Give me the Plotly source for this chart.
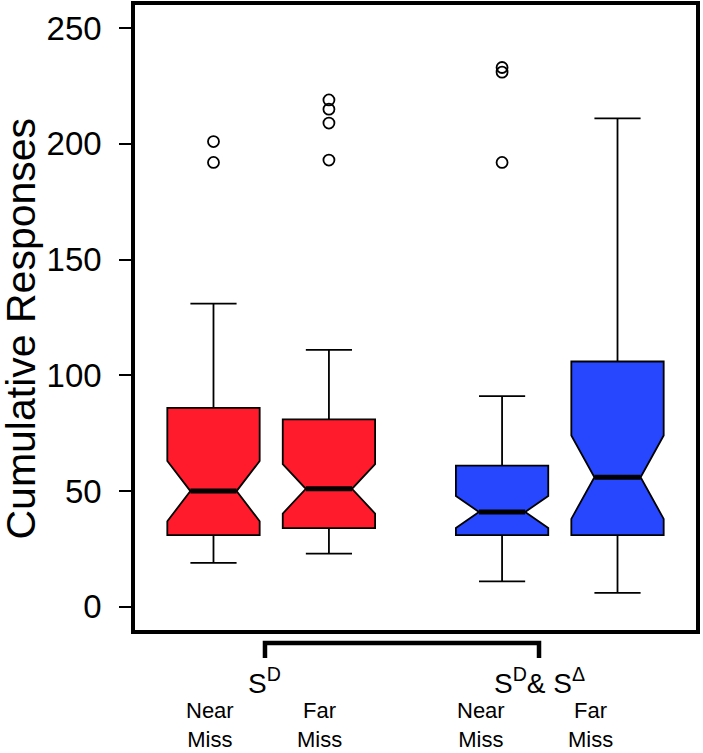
import plotly.graph_objects as go

# ---- data ----
groups = ["S<sup>D</sup>", "S<sup>D</sup>& S<sup>\u0394</sup>"]
conditions = ["Near<br>Miss", "Far<br>Miss", "Near<br>Miss", "Far<br>Miss"]
positions = [1, 2, 3.5, 4.5]
q1 = [31, 34, 31, 31]
median = [50, 51, 41, 56]
q3 = [86, 81, 61, 106]
lower_whisker = [19, 23, 11, 6]
upper_whisker = [131, 111, 91, 211]
notch_half = [13, 10.7, 6.9, 18]
outliers = [[192, 201], [193, 209, 215, 219], [192, 231, 233], []]
box_colors = ["#FF1B2B", "#FF1B2B", "#2747FF", "#2747FF"]
y_ticks = [0, 50, 100, 150, 200, 250]

FONT = "Liberation Sans, Arial, sans-serif"
W, H = 703, 753
ML, MR, MT, MB = 135, 7, 5, 123
plot_h = H - MT - MB


def py2paper(py):
    return (H - MB - py) / plot_h


fig = go.Figure()

for i in range(len(positions)):
    fig.add_trace(go.Box(
        x=[positions[i]], q1=[q1[i]], median=[median[i]], q3=[q3[i]],
        lowerfence=[lower_whisker[i]], upperfence=[upper_whisker[i]],
        notchspan=[notch_half[i]], notched=True, notchwidth=0.25,
        width=0.8, whiskerwidth=0.5, boxpoints=False,
        fillcolor=box_colors[i], line=dict(color="black", width=1.8),
        showlegend=False, hoverinfo="skip",
    ))

# thick median bars (span the notch waist: half of box width)
mx, my = [], []
for p, m in zip(positions, median):
    mx += [p - 0.2, p + 0.2, None]
    my += [m, m, None]
fig.add_trace(go.Scatter(x=mx, y=my, mode="lines",
                         line=dict(color="black", width=5),
                         showlegend=False, hoverinfo="skip"))

# outliers
ox, oy = [], []
for p, vals in zip(positions, outliers):
    ox += [p] * len(vals)
    oy += vals
fig.add_trace(go.Scatter(x=ox, y=oy, mode="markers",
                         marker=dict(symbol="circle-open", size=11, color="black",
                                     line=dict(width=1.8, color="black")),
                         showlegend=False, hoverinfo="skip"))

# bracket linking the two groups
gx = [1.446, 3.82]
fig.add_shape(type="path", xref="x", yref="paper",
              path=f"M {gx[0]},{py2paper(658)} L {gx[0]},{py2paper(643)} "
                   f"L {gx[1]},{py2paper(643)} L {gx[1]},{py2paper(658)}",
              line=dict(color="black", width=4.5))

annotations = []
for g, x in zip(groups, gx):
    annotations.append(dict(text=g, x=x, y=py2paper(681), xref="x", yref="paper",
                            xanchor="center", yanchor="middle", showarrow=False,
                            font=dict(family=FONT, size=28, color="black")))
label_x = [0.966, 1.918, 3.319, 4.263]
for c, x in zip(conditions, label_x):
    annotations.append(dict(text=c, x=x, y=py2paper(725), xref="x", yref="paper",
                            xanchor="center", yanchor="middle", showarrow=False,
                            font=dict(family=FONT, size=22, color="black")))
annotations.append(dict(text="Cumulative Responses", textangle=-90,
                        x=(20 - ML) / (W - ML - MR), y=py2paper(328.5),
                        xref="paper", yref="paper", xanchor="center", yanchor="middle",
                        showarrow=False, font=dict(family=FONT, size=41, color="black")))

fig.update_layout(
    template="none",
    width=W, height=H,
    margin=dict(l=ML, r=MR, t=MT, b=MB, pad=0, autoexpand=False),
    paper_bgcolor="white", plot_bgcolor="white",
    font=dict(family=FONT, color="black"),
    annotations=annotations,
    showlegend=False,
    xaxis=dict(range=[0.32, 5.18], showgrid=False, zeroline=False, automargin=False,
               showticklabels=False, ticks="", showline=True, mirror=True,
               linecolor="black", linewidth=3.5),
    yaxis=dict(range=[-10, 260], tickvals=y_ticks, ticktext=[str(v) for v in y_ticks],
               showgrid=False, zeroline=False, automargin=False, ticks="outside", ticklen=12,
               tickwidth=1.5, tickcolor="black", showline=True, mirror=True,
               linecolor="black", linewidth=3.5, ticklabelstandoff=11,
               tickfont=dict(family=FONT, size=33, color="black")),
)

fig.write_html("out.html", config={"displayModeBar": False},
               post_script="document.body.style.margin='0px';"
                           "document.body.style.padding='0px';")
